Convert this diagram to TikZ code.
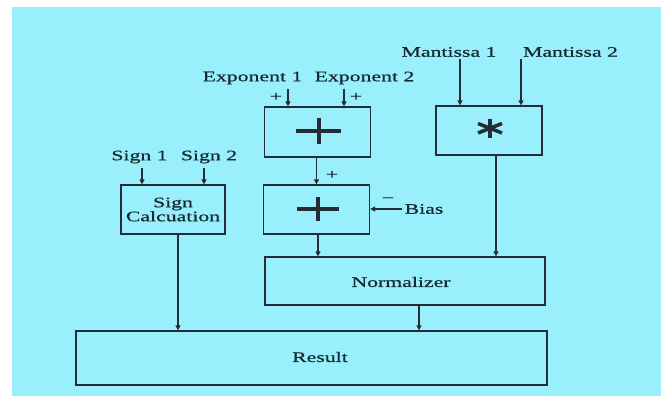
\documentclass[tikz,border=0pt]{standalone}
\usepackage{fontspec}
\setmainfont{Liberation Serif}[FakeStretch=1.5,FakeBold=0.6]
\usetikzlibrary{arrows.meta,calc}
\definecolor{bg}{RGB}{153,240,252}
\definecolor{ln}{RGB}{35,45,55}
\definecolor{tx}{RGB}{20,42,48}
\begin{document}
\begin{tikzpicture}[x=1pt,y=-1pt,
  box/.style={draw=ln,line width=1.3pt,rectangle,inner sep=0pt,text=tx},
  lbl/.style={inner sep=0pt,text=tx,font=\fontsize{14.5}{14}\selectfont},
  arr/.style={draw=ln,line width=1.3pt,-{Triangle[length=5pt,width=5pt]}},
  bigline/.style={draw=ln,line width=4pt}]
\useasboundingbox (0,0) rectangle (661,396);
\fill[white] (0,0) rectangle (661,396);
\fill[bg] (12,7) rectangle (661,396);
% boxes
\node[box,minimum width=104pt,minimum height=49pt,align=center,font=\fontsize{14.5}{14}\selectfont] (sign) at (173,209.5) {Sign\\Calcuation};
\node[box,minimum width=106pt,minimum height=50pt] (add1) at (317.5,132) {};
\node[box,minimum width=106pt,minimum height=49pt] (add2) at (316.5,209.5) {};
\node[box,minimum width=106pt,minimum height=49pt] (mul) at (489,130.5) {};
\node[box,minimum width=280pt,minimum height=48pt] (norm) at (405,281) {};
\node[box,minimum width=471pt,minimum height=54pt] (result) at (311.5,358) {};
\node[lbl] (normt) at (401,282) {Normalizer};
\node[lbl] (rest) at (320,357) {Result};
% big symbols
\draw[bigline] ($(add1.center)+(-22,-1)$) -- ($(add1.center)+(23,-1)$);
\draw[bigline] ($(add1.center)+(1,-14)$) -- ($(add1.center)+(1,12)$);
\draw[bigline] ($(add2.center)+(-20,-1)$) -- ($(add2.center)+(22,-1)$);
\draw[bigline] ($(add2.center)+(1,-12.5)$) -- ($(add2.center)+(1,11)$);
\draw[draw=ln,line width=3.5pt] ($(mul.center)+(1,-11.5)$) -- ($(mul.center)+(1,7)$);
\draw[draw=ln,line width=3.5pt] ($(mul.center)+(-11,-7)$) -- ($(mul.center)+(13,2.5)$);
\draw[draw=ln,line width=3.5pt] ($(mul.center)+(-11,2.5)$) -- ($(mul.center)+(13,-7)$);
% labels
\node[lbl] (s1) at (139.5,157) {Sign 1};
\node[lbl] (s2) at (209,157) {Sign 2};
\node[lbl] (e1) at (252.5,78) {Exponent 1};
\node[lbl] (e2) at (364.5,78) {Exponent 2};
\node[lbl] (m1) at (449,52) {Mantissa 1};
\node[lbl] (m2) at (570.5,52) {Mantissa 2};
\node[lbl] (p1) at (276,97) {+};
\node[lbl] (p2) at (356,97) {+};
\node[lbl] (p3) at (332,175) {+};
\node[lbl] (mn) at (388,200) {−};
\node[lbl] (bias) at (424,209) {Bias};
% arrow start points
\coordinate (s1a) at (142,168);
\coordinate (s2a) at (204,168);
\coordinate (e1a) at (288,89);
\coordinate (e2a) at (344,89);
\coordinate (m1a) at (460,59);
\coordinate (m2a) at (521,59);
\coordinate (ba) at (402,209);
\draw[arr] (s1a) -- (s1a |- sign.north);
\draw[arr] (s2a) -- (s2a |- sign.north);
\draw[arr] (e1a) -- (e1a |- add1.north);
\draw[arr] (e2a) -- (e2a |- add1.north);
\draw[arr] (m1a) -- (m1a |- mul.north);
\draw[arr] (m2a) -- (m2a |- mul.north);
\draw[arr] (ba) -- (ba -| add2.east);
\draw[arr] ([xshift=-1pt]add1.south) coordinate (a1s) -- (a1s |- add2.north);
\draw[arr] ([xshift=1.5pt]add2.south) coordinate (a2s) -- (a2s |- norm.north);
\draw[arr] ([xshift=7pt]mul.south) coordinate (ms) -- (ms |- norm.north);
\draw[arr] ([xshift=5pt]sign.south) coordinate (ss) -- (ss |- result.north);
\draw[arr] ([xshift=14pt]norm.south) coordinate (ns) -- (ns |- result.north);
\end{tikzpicture}
\end{document}
